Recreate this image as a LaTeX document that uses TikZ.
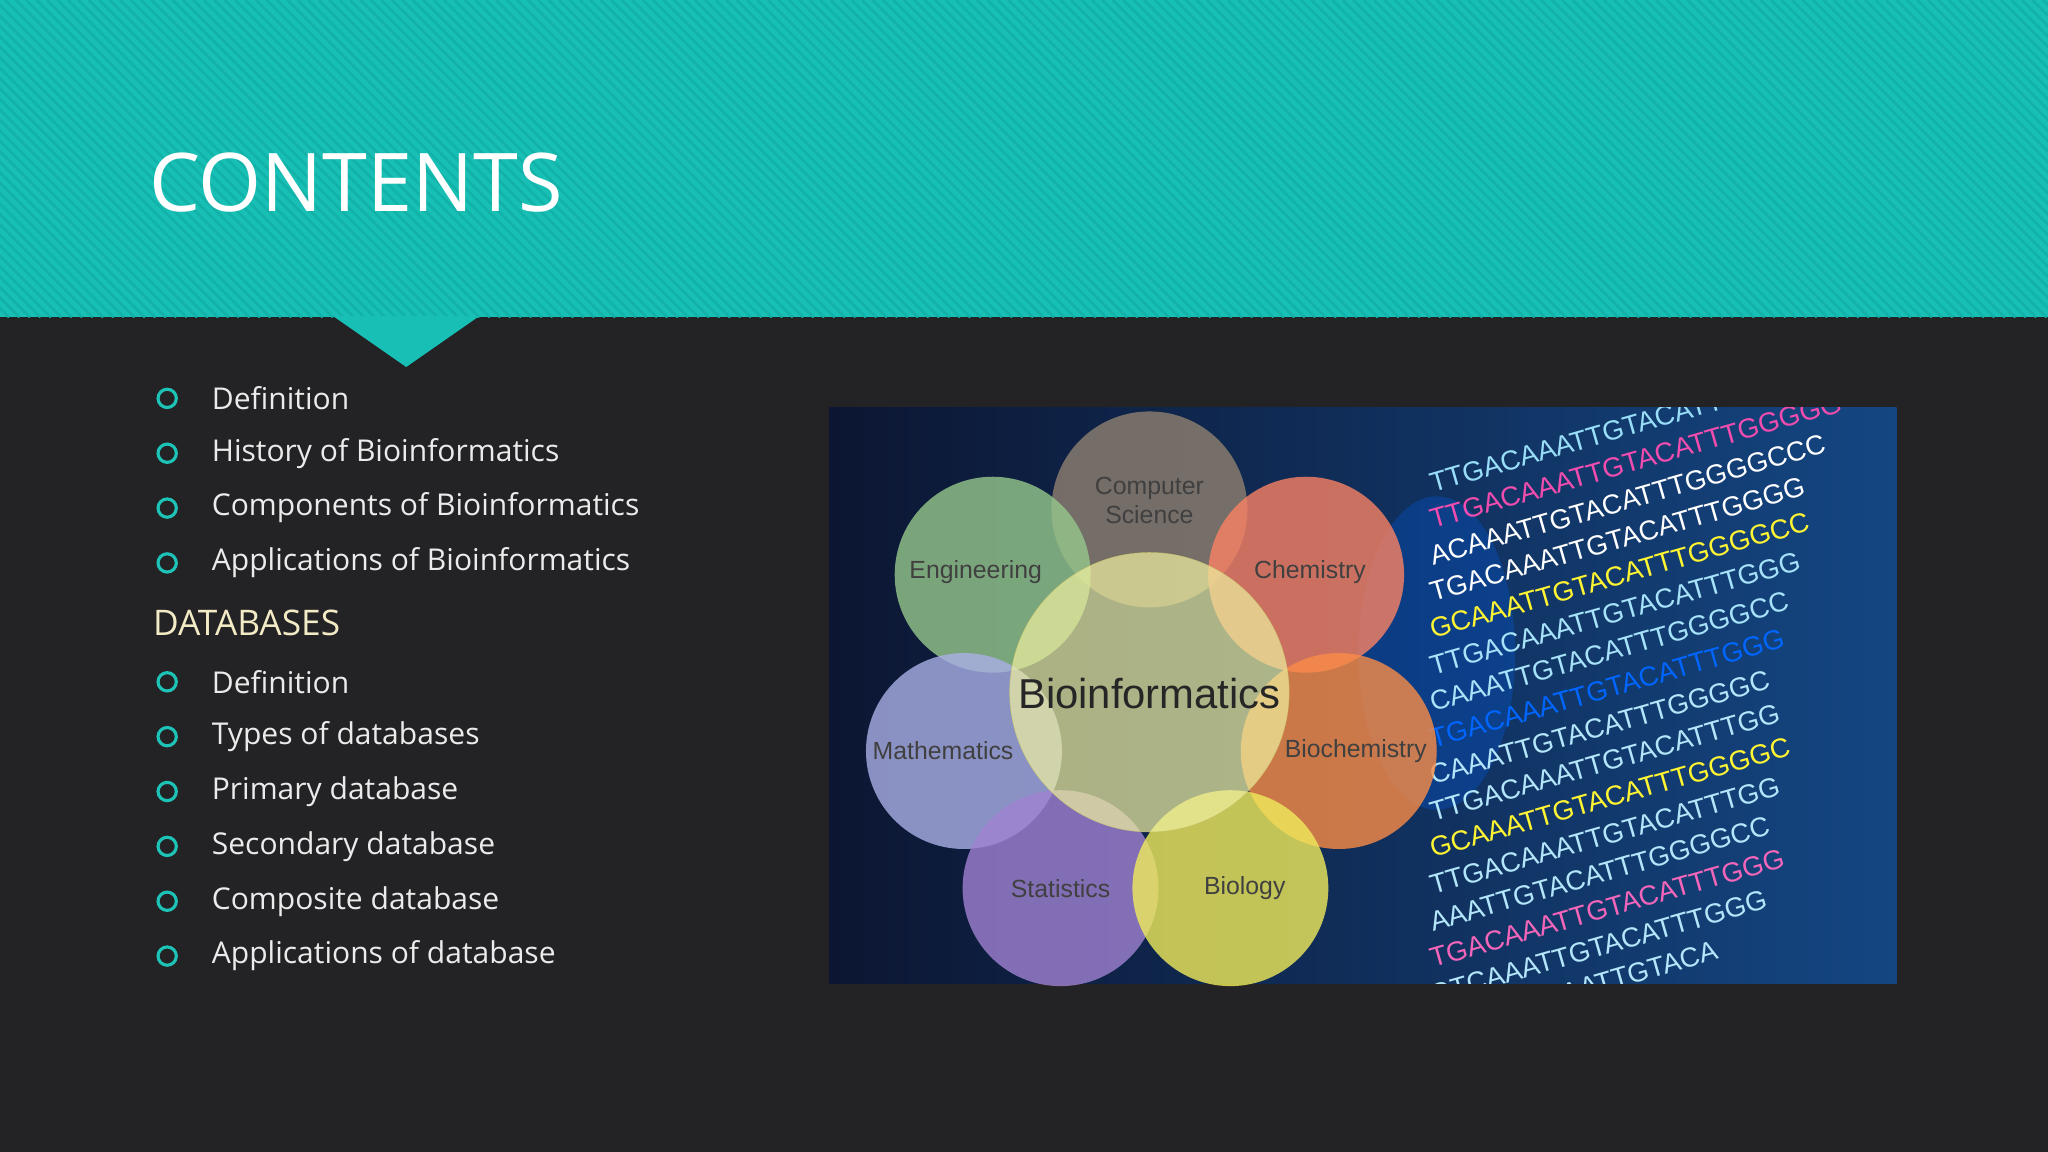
\documentclass[tikz,border=0pt]{standalone}
\usepackage{fontspec}
\setmainfont{Open Sans}
\newfontfamily\arialf{Liberation Sans}
\definecolor{teal1}{HTML}{17BFB4}
\definecolor{teal2}{HTML}{12B2A8}
\definecolor{bgdark}{HTML}{232325}
\definecolor{cream}{HTML}{F3EAC6}
\definecolor{bulletc}{HTML}{1DC3B6}
\tikzset{
 bul/.style={draw=bulletc,line width=2.4pt,circle,minimum size=14pt,inner sep=0pt},
 item/.style={anchor=west,text=white!92!black,font=\fontsize{23}{26}\selectfont,inner sep=0pt},
 disc/.style={circle,minimum size=150pt,inner sep=0pt,opacity=0.8},
 dl/.style={font=\arialf\fontsize{19}{22}\selectfont,text=black!75,align=center},
 dna/.style={font=\arialf\fontsize{21}{22}\selectfont,anchor=west,rotate=16,inner sep=0pt}
}
\begin{document}
\begin{tikzpicture}[x=1pt,y=-1pt]
\useasboundingbox (0,0) rectangle (1568,882);
\fill[bgdark] (0,0) rectangle (1568,882);
\fill[teal1] (0,0) rectangle (1568,243);
\begin{scope}
\clip (0,0) rectangle (1568,243);
\foreach \i in {-260,-252,...,1580}{\draw[teal2,line width=2pt] (\i,0) -- (\i+243,243);}
\end{scope}
\fill[teal1] (255,242) -- (367,242) -- (311,281) -- cycle;
\node[anchor=base west,text=white,font=\fontsize{62}{64}\selectfont,inner sep=0pt] (title) at (114,162) {CONTENTS};
\foreach \y/\t [count=\n] in {305/Definition,347/History of Bioinformatics,389/Components of Bioinformatics,431/Applications of Bioinformatics,522/Definition,564/Types of databases,606/Primary database,648/Secondary database,690/Composite database,732/Applications of database}{
 \node[bul] (b\n) at (128,\y) {};
 \node[item] (t\n) at (162,\y) {\t};
}
\node[anchor=west,text=cream,font=\fontsize{27}{30}\selectfont,inner sep=0pt] (db) at (117,477) {DATABASES};
% picture
\begin{scope}
\clip (635,312) rectangle (1452,753);
\shade[left color={rgb,255:red,12;green,22;blue,50},right color={rgb,255:red,20;green,70;blue,130}] (635,312) rectangle (1452,753);
\fill[blue!60!cyan,opacity=0.25] (1100,500) ellipse (60 and 120);
\foreach \y/\c/\s in {350/cyan!40/TTGACAAATTGTACATTTGGG,378/magenta!70/TTGACAAATTGTACATTTGGGGG,406/white/ACAAATTGTACATTTGGGGCCC,434/white/TGACAAATTGTACATTTGGGG,462/yellow!80/GCAAATTGTACATTTGGGGCC,490/cyan!35/TTGACAAATTGTACATTTGGG,518/cyan!35/CAAATTGTACATTTGGGGCC,546/blue!60!cyan/TGACAAATTGTACATTTGGG,574/cyan!30/CAAATTGTACATTTGGGGC,602/cyan!30/TTGACAAATTGTACATTTGG,630/yellow!80/GCAAATTGTACATTTGGGGC,658/cyan!30/TTGACAAATTGTACATTTGG,686/cyan!30/AAATTGTACATTTGGGGCC,714/magenta!60/TGACAAATTGTACATTTGGG,742/cyan!30/GTCAAATTGTACATTTGGG,770/cyan!30/GGTGACAAATTGTACA}{
 \node[dna,text=\c] at (1095,\y+20) {\s};
}
\end{scope}
\node[disc,fill=gray!75!brown] (cs) at (880,390) {};
\node[disc,fill={rgb,255:red,150;green,200;blue,140}] (eng) at (760,440) {};
\node[disc,fill={rgb,255:red,250;green,130;blue,100}] (chem) at (1000,440) {};
\node[disc,fill={rgb,255:red,170;green,175;blue,230}] (math) at (738,575) {};
\node[disc,fill={rgb,255:red,250;green,140;blue,70}] (bio) at (1025,575) {};
\node[disc,fill={rgb,255:red,160;green,130;blue,210}] (stat) at (812,680) {};
\node[disc,fill={rgb,255:red,240;green,235;blue,90}] (biol) at (942,680) {};
\node[circle,minimum size=214pt,fill={rgb,255:red,240;green,240;blue,160},opacity=0.7,draw=yellow!50!gray] (center) at (880,530) {};
\node[dl] at (880,383) {Computer\\Science};
\node[dl] at (747,438) {Engineering};
\node[dl] at (1003,438) {Chemistry};
\node[dl] at (722,575) {Mathematics};
\node[dl] at (1038,575) {Biochemistry};
\node[dl] at (812,680) {Statistics};
\node[dl] at (953,680) {Biology};
\node[dl,font=\arialf\fontsize{32}{34}\selectfont,text=black!85] at (880,531) {Bioinformatics};
\end{tikzpicture}
\end{document}
